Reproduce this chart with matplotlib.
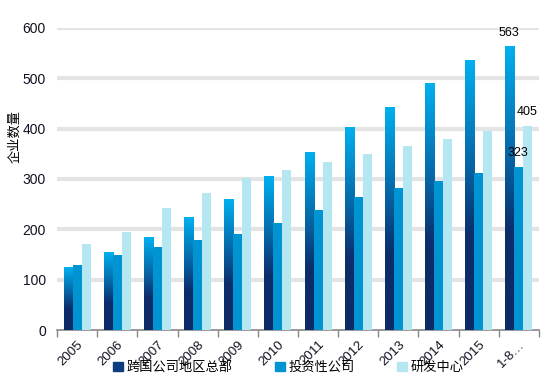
import numpy as np
import matplotlib
matplotlib.use("Agg")
import matplotlib.pyplot as plt
from matplotlib.colors import LinearSegmentedColormap
from matplotlib.patches import Patch

plt.rcParams['font.family'] = ['Liberation Sans', 'Noto Sans CJK SC', 'DejaVu Sans']

years = ['2005', '2006', '2007', '2008', '2009', '2010', '2011', '2012',
         '2013', '2014', '2015', '1-8…']
hq = [124, 154, 183, 223, 259, 304, 353, 402, 443, 490, 535, 563]
invest = [130, 150, 164, 178, 190, 213, 239, 265, 283, 297, 311, 323]
rnd = [170, 195, 243, 273, 302, 318, 333, 350, 366, 380, 396, 405]
series_names = ['跨国公司地区总部', '投资性公司', '研发中心']

fig = plt.figure(figsize=(5.6, 3.87), dpi=100)
ax = fig.add_axes([57 / 560, 57 / 387, 482 / 560, 302 / 387])

x = np.arange(len(years))
w = 0.225

# gradient for the headquarters bars (bright blue at top, navy at bottom)
grad = LinearSegmentedColormap.from_list(
    'hq', [(0.0, '#0c2a66'), (0.35, '#0c2d6b'), (0.6, '#0663a3'), (1.0, '#00b0f0')])
col = np.linspace(0, 1, 256).reshape(-1, 1)

b1 = ax.bar(x - w, hq, w, color='none', zorder=3)
for r in b1:
    ax.imshow(col, cmap=grad, origin='lower', aspect='auto', zorder=3,
              extent=[r.get_x(), r.get_x() + r.get_width(), 0, r.get_height()])
ax.bar(x, invest, w, color='#0094d2', zorder=3)
ax.bar(x + w, rnd, w, color='#b4e7f1', zorder=3)

ax.set_xlim(-0.5, len(years) - 0.5)
ax.set_ylim(0, 600)
ax.set_yticks(range(0, 601, 100))
for v in range(100, 601, 100):
    ax.axhline(v, color='#e4e4e4', lw=3, zorder=1)

ax.set_xticks(x)
ax.set_xticklabels(years, rotation=45, ha='right', rotation_mode='anchor',
                   fontsize=9.5, color='#111122')
ax.set_xticks(np.arange(-0.5, len(years)), minor=True)
ax.tick_params(axis='x', which='major', length=0, pad=6)
ax.tick_params(axis='x', which='minor', length=5, color='#888888', width=1)
ax.tick_params(axis='y', length=0, labelsize=10, labelcolor='#111122', pad=8)

for s in ['top', 'right', 'left']:
    ax.spines[s].set_visible(False)
ax.spines['bottom'].set_color('#888888')
ax.spines['bottom'].set_linewidth(1.2)

ax.set_ylabel('企业数量', fontsize=9.5)
ax.yaxis.set_label_coords(-0.075, 0.64)

# data labels on the last group
last = len(years) - 1
ax.text(x[last] - w - 0.02, hq[last] + 16, str(hq[last]), ha='center',
        va='bottom', fontsize=9, clip_on=False)
ax.text(x[last] - 0.02, invest[last] + 17, str(invest[last]), ha='center',
        va='bottom', fontsize=9, clip_on=False)
ax.text(x[last] + 0.2, rnd[last] + 17, str(rnd[last]), ha='center',
        va='bottom', fontsize=9, clip_on=False)

handles = [Patch(color='#0b3d7e'), Patch(color='#0094d2'), Patch(color='#b4e7f1')]
fig.legend(handles, series_names, loc='center', bbox_to_anchor=(0.515, 0.05),
           ncol=3, frameon=False, fontsize=9.5, handlelength=0.75,
           handleheight=0.75, handletextpad=0.3, columnspacing=3.2)

fig.savefig('out.png', dpi=100)
